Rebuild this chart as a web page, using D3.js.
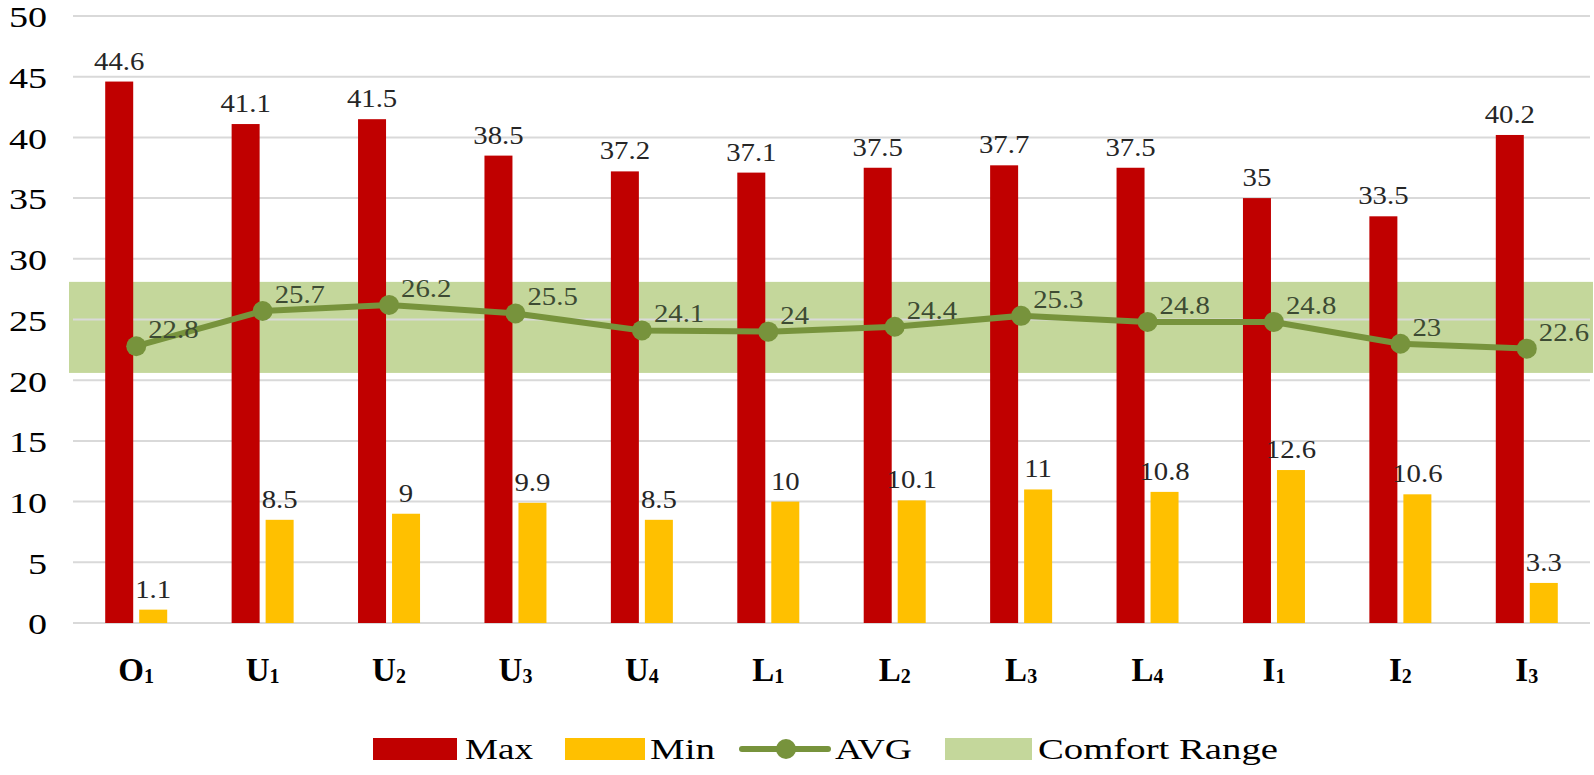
<!DOCTYPE html>
<html><head><meta charset="utf-8">
<script src="https://cdn.jsdelivr.net/npm/d3@7"></script>
<style>body{margin:0;background:#fff}svg{display:block}</style>
</head><body>
<svg id="c" width="1594" height="775"></svg>
<script>
// ---- data ----
const categories = ["O1","U1","U2","U3","U4","L1","L2","L3","L4","I1","I2","I3"];
const maxValues = [44.6,41.1,41.5,38.5,37.2,37.1,37.5,37.7,37.5,35,33.5,40.2];
const minValues = [1.1,8.5,9,9.9,8.5,10,10.1,11,10.8,12.6,10.6,3.3];
const avgValues = [22.8,25.7,26.2,25.5,24.1,24,24.4,25.3,24.8,24.8,23,22.6];
const comfortRange = [20.6, 28.1];
const yTickValues = [0,5,10,15,20,25,30,35,40,45,50];
const legendNames = ["Max","Min","AVG","Comfort Range"];

// ---- styles ----
const C_MAX = "#c00000", C_MIN = "#ffc000", C_AVG = "#77933c", C_BAND = "#c4d79b";
const FONT = "'Liberation Serif','Times New Roman',serif";

const svg = d3.select("#c");
const x = d3.scaleBand().domain(categories).range([73, 1590]);
const y = d3.scaleLinear().domain([0, 50]).range([623, 16]);
const xs = d3.scaleBand().domain(["Max","Min"]).range([-31, 31]).paddingInner(6/34);

function stretch(sel, k) {
  sel.each(function () {
    const w = this.getComputedTextLength();
    this.setAttribute("textLength", w * k);
    this.setAttribute("lengthAdjust", "spacingAndGlyphs");
  });
}
function fixLen(sel, w) {
  sel.attr("textLength", w).attr("lengthAdjust", "spacingAndGlyphs");
}

// comfort band
svg.append("rect")
  .attr("x", 69).attr("width", 1593 - 69)
  .attr("y", y(comfortRange[1])).attr("height", y(comfortRange[0]) - y(comfortRange[1]))
  .attr("fill", C_BAND);

// gridlines
svg.append("g").selectAll("line").data(yTickValues).join("line")
  .attr("x1", 73).attr("x2", 1590)
  .attr("y1", d => y(d)).attr("y2", d => y(d))
  .attr("stroke", "#d9d9d9").attr("stroke-width", 2);

// y axis labels
const yAxis = svg.append("g").attr("transform", "translate(73,0)")
  .call(d3.axisLeft(y).tickValues(yTickValues).tickSize(0).tickPadding(26));
yAxis.select(".domain").remove();
yAxis.selectAll("text").attr("font-family", FONT).attr("font-size", 30).attr("fill", "#000")
  .attr("dy", "0.36em");
stretch(yAxis.selectAll("text"), 1.27);

// bars
const groups = svg.append("g").selectAll("g").data(categories).join("g")
  .attr("transform", d => `translate(${x(d) + x.bandwidth() / 2},0)`);
groups.append("rect")
  .attr("x", xs("Max")).attr("width", xs.bandwidth())
  .attr("y", (d, i) => y(maxValues[i])).attr("height", (d, i) => y(0) - y(maxValues[i]))
  .attr("fill", C_MAX);
groups.append("rect")
  .attr("x", xs("Min")).attr("width", xs.bandwidth())
  .attr("y", (d, i) => y(minValues[i])).attr("height", (d, i) => y(0) - y(minValues[i]))
  .attr("fill", C_MIN);

// bar labels
const maxLab = groups.append("text")
  .attr("x", xs("Max") + xs.bandwidth() / 2)
  .attr("y", (d, i) => y(maxValues[i]) - 12)
  .attr("text-anchor", "middle").attr("font-family", FONT).attr("font-size", 25).attr("fill", "#262626")
  .text((d, i) => maxValues[i]);
stretch(maxLab, 1.15);
const minLab = groups.append("text")
  .attr("x", xs("Min") + xs.bandwidth() / 2)
  .attr("y", (d, i) => y(minValues[i]) - 12)
  .attr("text-anchor", "middle").attr("font-family", FONT).attr("font-size", 25).attr("fill", "#262626")
  .text((d, i) => minValues[i]);
stretch(minLab, 1.15);

// avg line
const cx = (d) => x(d) + x.bandwidth() / 2;
const line = d3.line().x((d, i) => cx(categories[i])).y(d => y(d));
svg.append("path").datum(avgValues).attr("d", line)
  .attr("fill", "none").attr("stroke", C_AVG).attr("stroke-width", 6).attr("stroke-linejoin", "round");
svg.append("g").selectAll("circle").data(avgValues).join("circle")
  .attr("cx", (d, i) => cx(categories[i])).attr("cy", d => y(d)).attr("r", 10)
  .attr("fill", C_AVG);
const avgLab = svg.append("g").selectAll("text").data(avgValues).join("text")
  .attr("x", (d, i) => cx(categories[i]) + 12).attr("y", d => y(d) - 8)
  .attr("font-family", FONT).attr("font-size", 25).attr("fill", "#3d4b33")
  .text(d => d);
stretch(avgLab, 1.15);

// x labels
const xLab = svg.append("g").selectAll("text").data(categories).join("text")
  .attr("x", d => cx(d)).attr("y", 681)
  .attr("text-anchor", "middle").attr("font-family", FONT).attr("font-size", 33)
  .attr("font-weight", "bold").attr("fill", "#000");
xLab.append("tspan").text(d => d[0]);
xLab.append("tspan").attr("font-size", 20).attr("dy", 2).text(d => d.slice(1));

// legend
const ly = 749;
svg.append("rect").attr("x", 373).attr("y", ly - 11).attr("width", 84).attr("height", 22).attr("fill", C_MAX);
svg.append("rect").attr("x", 565).attr("y", ly - 11).attr("width", 80).attr("height", 22).attr("fill", C_MIN);
svg.append("line").attr("x1", 742).attr("x2", 828).attr("y1", ly).attr("y2", ly)
  .attr("stroke", C_AVG).attr("stroke-width", 6).attr("stroke-linecap", "round");
svg.append("circle").attr("cx", 786).attr("cy", ly).attr("r", 10).attr("fill", C_AVG);
svg.append("rect").attr("x", 945).attr("y", ly - 11).attr("width", 87).attr("height", 22).attr("fill", C_BAND);
const legPos = [[465, 68], [650, 65], [835, 77], [1038, 240]];
legendNames.forEach((n, i) => {
  svg.append("text").attr("x", legPos[i][0]).attr("y", ly + 10)
    .attr("font-family", FONT).attr("font-size", 29).attr("fill", "#000")
    .text(n).call(fixLen, legPos[i][1]);
});
</script>
</body></html>
